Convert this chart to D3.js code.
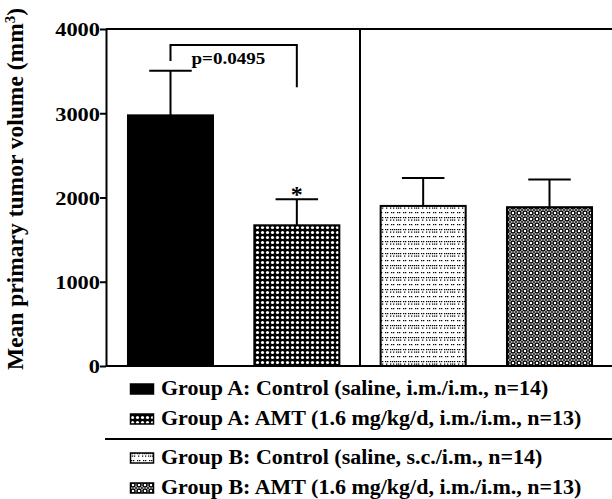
<!DOCTYPE html>
<html>
<head>
<meta charset="utf-8">
<script src="https://cdn.jsdelivr.net/npm/d3@7"></script>
<style>
  body { margin: 0; background: #fff; }
  text { font-family: "Liberation Serif", "Times New Roman", serif; font-weight: bold; fill: #000; }
</style>
</head>
<body>
<div id="chart"></div>
<script>
// data
const categories = ['A-control', 'A-amt', 'B-control', 'B-amt'];
const means = [2975, 1670, 1900, 1885];
const sems = [530, 310, 330, 330];
const legendLabels = [
  'Group A: Control (saline, i.m./i.m., n=14)',
  'Group A: AMT (1.6 mg/kg/d, i.m./i.m., n=13)',
  'Group B: Control (saline, s.c./i.m., n=14)',
  'Group B: AMT (1.6 mg/kg/d, i.m./i.m., n=13)'
];
const yTicks = [0, 1000, 2000, 3000, 4000];
const bracketLevels = [3620, 3810, 3310]; // left end, top, right end
const pLabel = 'p=0.0495';
const starLabel = '*';

const width = 612, height = 499;
const plot = { left: 106, right: 614, top: 29, bottom: 366 };

const svg = d3.select('#chart').append('svg')
  .attr('width', width)
  .attr('height', height);

// fill patterns for the four bars
const defs = svg.append('defs');

const p1 = defs.append('pattern').attr('id', 'pat-a-amt')
  .attr('patternUnits', 'userSpaceOnUse').attr('width', 5).attr('height', 5);
p1.append('rect').attr('width', 5).attr('height', 5).attr('fill', '#000');
p1.append('circle').attr('cx', 2.5).attr('cy', 2.5).attr('r', 1.6).attr('fill', '#fff');

const p2 = defs.append('pattern').attr('id', 'pat-b-ctrl')
  .attr('patternUnits', 'userSpaceOnUse').attr('width', 18).attr('height', 12);
p2.append('rect').attr('width', 18).attr('height', 12).attr('fill', '#fff');
[[0, 1], [2, 1], [4, 1], [7, 1], [9, 1], [12, 1], [14, 1], [16, 1],
 [0, 3.5], [2, 3.5], [4, 3.5], [8, 3.5], [12, 3.5], [15, 3.5],
 [1, 8], [3, 8], [7, 8], [9, 8], [13, 8], [15, 8]]
  .forEach(([x, y]) => p2.append('rect').attr('x', x).attr('y', y).attr('width', 1.3).attr('height', 1.2).attr('fill', '#000'));

const p3 = defs.append('pattern').attr('id', 'pat-b-amt')
  .attr('patternUnits', 'userSpaceOnUse').attr('width', 6).attr('height', 6);
p3.append('rect').attr('width', 6).attr('height', 6).attr('fill', '#fff');
p3.append('circle').attr('cx', 3).attr('cy', 3).attr('r', 2).attr('fill', 'none').attr('stroke', '#000').attr('stroke-width', 1.5);
p3.append('circle').attr('cx', 0).attr('cy', 0).attr('r', 1).attr('fill', '#000');
p3.append('circle').attr('cx', 6).attr('cy', 6).attr('r', 1).attr('fill', '#000');
p3.append('circle').attr('cx', 6).attr('cy', 0).attr('r', 1).attr('fill', '#000');
p3.append('circle').attr('cx', 0).attr('cy', 6).attr('r', 1).attr('fill', '#000');

const fills = ['#000', 'url(#pat-a-amt)', 'url(#pat-b-ctrl)', 'url(#pat-b-amt)'];

const x = d3.scaleBand()
  .domain(categories)
  .range([plot.left, plot.right])
  .paddingInner(0.327)
  .paddingOuter(0.174);

const y = d3.scaleLinear()
  .domain([0, 4000])
  .range([plot.bottom, plot.top]);

// frame: top line and divider between groups
svg.append('line')
  .attr('x1', plot.left).attr('x2', width)
  .attr('y1', y(4000)).attr('y2', y(4000))
  .attr('stroke', '#000').attr('stroke-width', 2);

const divX = x(categories[2]) - x.step() * x.paddingInner() / 2;
svg.append('line')
  .attr('x1', divX).attr('x2', divX)
  .attr('y1', y(4000)).attr('y2', y(0))
  .attr('stroke', '#000').attr('stroke-width', 2);

// bars
svg.selectAll('.bar')
  .data(categories)
  .join('rect')
  .attr('class', 'bar')
  .attr('x', d => x(d))
  .attr('y', (d, i) => y(means[i]))
  .attr('width', x.bandwidth())
  .attr('height', (d, i) => y(0) - y(means[i]))
  .attr('fill', (d, i) => fills[i])
  .attr('stroke', '#000')
  .attr('stroke-width', 2);

// error bars (upper only)
const err = svg.selectAll('.err')
  .data(categories)
  .join('g')
  .attr('class', 'err')
  .attr('stroke', '#000')
  .attr('stroke-width', 2);

err.append('line')
  .attr('x1', d => x(d) + x.bandwidth() / 2)
  .attr('x2', d => x(d) + x.bandwidth() / 2)
  .attr('y1', (d, i) => y(means[i]))
  .attr('y2', (d, i) => y(means[i] + sems[i]));

err.append('line')
  .attr('x1', d => x(d) + x.bandwidth() / 4)
  .attr('x2', d => x(d) + x.bandwidth() * 3 / 4)
  .attr('y1', (d, i) => y(means[i] + sems[i]))
  .attr('y2', (d, i) => y(means[i] + sems[i]));

// axes
const yAxis = svg.append('g')
  .attr('transform', `translate(${plot.left},0)`)
  .call(d3.axisLeft(y).tickValues(yTicks).tickFormat(d3.format('d')).tickSize(6).tickSizeOuter(0));
yAxis.attr('font-family', null).attr('font-size', null);
yAxis.select('.domain').attr('stroke-width', 2);
yAxis.selectAll('.tick line').attr('stroke-width', 2);
yAxis.selectAll('.tick text')
  .attr('x', 0)
  .attr('dy', '0.35em')
  .attr('transform', 'translate(-6,0) scale(1.15,1)')
  .style('font-size', '19.5px')
  .attr('fill', '#000');

svg.append('line')
  .attr('x1', plot.left).attr('x2', width)
  .attr('y1', y(0)).attr('y2', y(0))
  .attr('stroke', '#000').attr('stroke-width', 2);

// y label
svg.append('text')
  .attr('transform', 'translate(23,189) rotate(-90)')
  .attr('text-anchor', 'middle')
  .style('font-size', '23.5px')
  .text('Mean primary tumor volume (mm')
  .call(t => t.append('tspan').attr('baseline-shift', 'super').style('font-size', '15px').text('3'))
  .call(t => t.append('tspan').text(')'));

// significance bracket
const cx0 = x(categories[0]) + x.bandwidth() / 2;
const cx1 = x(categories[1]) + x.bandwidth() / 2;
svg.append('path')
  .attr('d', `M${cx0},${y(bracketLevels[0])}V${y(bracketLevels[1])}H${cx1}V${y(bracketLevels[2])}`)
  .attr('fill', 'none')
  .attr('stroke', '#000')
  .attr('stroke-width', 2);

svg.append('text')
  .attr('transform', `translate(${cx0 + 21},${y(bracketLevels[1]) + 19}) scale(1.19,1)`)
  .style('font-size', '16px')
  .text(pLabel);

svg.append('text')
  .attr('x', cx1)
  .attr('y', y(means[1] + sems[1]) - 20)
  .attr('dy', '0.95em')
  .attr('text-anchor', 'middle')
  .style('font-size', '24px')
  .text(starLabel);

// legend
const legendRows = [395, 425, 464, 494];
const legend = svg.selectAll('.legend')
  .data(legendLabels)
  .join('g')
  .attr('class', 'legend')
  .attr('transform', (d, i) => `translate(130,${legendRows[i]})`);

legend.append('rect')
  .attr('x', 0.5)
  .attr('y', -11)
  .attr('width', 23)
  .attr('height', 10)
  .attr('fill', (d, i) => fills[i])
  .attr('stroke', '#000')
  .attr('stroke-width', 1.5);

legend.append('text')
  .attr('transform', 'translate(31,0) scale(1.1,1)')
  .style('font-size', '20px')
  .text(d => d);

svg.append('line')
  .attr('x1', 105).attr('x2', width)
  .attr('y1', 439).attr('y2', 439)
  .attr('stroke', '#000').attr('stroke-width', 2);
</script>
</body>
</html>
